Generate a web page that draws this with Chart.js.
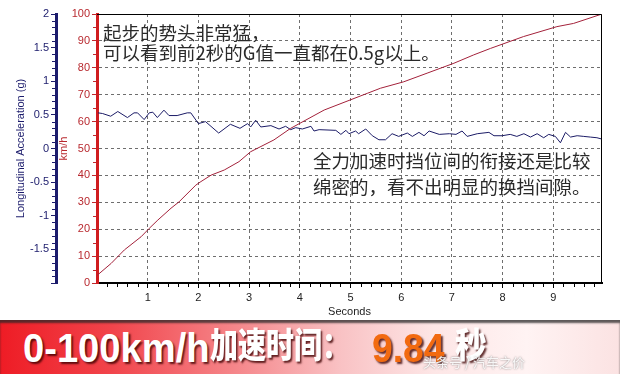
<!DOCTYPE html>
<html>
<head>
<meta charset="utf-8">
<script src="https://cdn.jsdelivr.net/npm/chart.js@4.4.1/dist/chart.umd.min.js"></script>
<style>
  body { margin: 0; width: 620px; height: 374px; overflow: hidden; position: relative; background: #fff; font-family: "Liberation Sans", Arial, sans-serif; }
  #wrap { position: absolute; left: 0; top: 0; width: 620px; height: 320px; }
  #banner {
    position: absolute; left: 0; top: 320px; width: 620px; height: 54px;
    background: linear-gradient(90deg, #ee1c25 0%, #f1444b 18%, #f5868a 38%, #f9c2c4 55%, #fde6e6 70%, #fff3f3 85%, #fbe2e2 100%);
    box-shadow: inset 0 3px 2px rgba(40, 40, 40, 0.75);
  }
  #banner span { position: absolute; white-space: nowrap; transform-origin: 0 0; line-height: 1; }
  .big { font-family: "Liberation Sans", Arial, sans-serif; font-weight: bold; font-size: 41px; text-shadow: 2px 2px 2px rgba(60, 0, 0, 0.8); }
  .cjk { font-family: "Noto Sans CJK SC", sans-serif; font-weight: 900; font-size: 35px; text-shadow: 2px 2px 2px rgba(60, 0, 0, 0.8); }
  .mark { font-family: "Noto Sans CJK SC", sans-serif; font-size: 13px; color: rgba(255, 255, 255, 0.9); text-shadow: 0 0 2px rgba(90, 90, 90, 0.8); }
</style>
</head>
<body>
<div id="wrap"><canvas id="accelChart"></canvas></div>
<div id="banner">
  <span class="big" style="left:23px; top:8px; color:#fff; transform:scaleX(0.93);">0-100km/h</span>
  <span class="cjk" style="left:210px; top:5px; color:#fff; transform:scaleX(0.8);">加速时间：</span>
  <span class="big" style="left:372px; top:8px; color:#f26a10; transform:scaleX(0.91);">9.84</span>
  <span class="cjk" style="left:455px; top:5px; color:#fff; transform:scaleX(0.9);">秒</span>
  <span class="mark" style="left:423px; top:35px;">头条号 / 汽车之价</span>
</div>
<script>
// speed trace (km/h)
const timeSpeed = [0, 0.28, 0.54, 0.87, 1.03, 1.2, 1.46, 1.62, 1.95, 2.05, 2.25, 2.51, 2.8, 3.03, 3.49, 3.82,
    4.48, 5.33, 5.59, 6.05, 6.51, 7.04, 7.43, 7.76, 8.41, 9.07, 9.4, 9.96];
const speedKmh = [2.8, 7.3, 12.3, 17.2, 20.3, 23.4, 27.8, 30.2, 36.4, 37.7, 40.1, 42.0, 45.1, 48.8, 53.2, 57.5,
    64.3, 70.5, 72.4, 74.8, 78.0, 81.7, 84.8, 87.2, 91.6, 95.3, 96.5, 100];

// longitudinal acceleration trace (g)
const timeG = [0.02, 0.11, 0.27, 0.41, 0.6, 0.73, 0.8, 0.93, 1.03, 1.1, 1.19, 1.32, 1.42, 1.58, 1.78, 1.85,
    2.0, 2.14, 2.4, 2.63, 2.82, 2.97, 3.03, 3.13, 3.23, 3.43, 3.59, 3.72, 3.82, 3.92, 4.05, 4.22, 4.28, 4.38,
    4.71, 4.81, 4.91, 4.97, 5.1, 5.16, 5.3, 5.43, 5.56, 5.69, 5.82, 5.95, 6.12, 6.22, 6.35, 6.45, 6.55,
    6.75, 6.95, 7.08, 7.2, 7.3, 7.5, 7.73, 7.83, 7.99, 8.15, 8.28, 8.42, 8.55, 8.68, 8.81, 8.91, 9.04,
    9.14, 9.24, 9.34, 9.47, 9.6, 9.73, 9.86, 9.96];
const accelG = [0.53, 0.52, 0.48, 0.55, 0.46, 0.53, 0.53, 0.43, 0.53, 0.54, 0.46, 0.57, 0.49, 0.49, 0.53, 0.53,
    0.37, 0.40, 0.23, 0.36, 0.30, 0.37, 0.32, 0.42, 0.32, 0.34, 0.29, 0.33, 0.28, 0.31, 0.29, 0.33, 0.26, 0.28,
    0.27, 0.21, 0.27, 0.22, 0.26, 0.22, 0.29, 0.19, 0.13, 0.13, 0.22, 0.18, 0.23, 0.18, 0.24, 0.19, 0.26,
    0.21, 0.22, 0.21, 0.26, 0.18, 0.22, 0.24, 0.19, 0.19, 0.21, 0.18, 0.22, 0.17, 0.22, 0.16, 0.21, 0.18,
    0.085, 0.24, 0.17, 0.19, 0.18, 0.17, 0.16, 0.14];

// tick labels
const secTicks = [1, 2, 3, 4, 5, 6, 7, 8, 9];
const kmhTicks = [0, 10, 20, 30, 40, 50, 60, 70, 80, 90, 100];
const gTicks = [-2, -1.5, -1, -0.5, 0, 0.5, 1, 1.5, 2];

const notes = [
    { x: 103, y: 33, text: '起步的势头非常猛，' },
    { x: 103, y: 53, text: '可以看到前2秒的G值一直都在0.5g以上。' },
    { x: 313, y: 161, text: '全力加速时挡位间的衔接还是比较' },
    { x: 313, y: 187, text: '绵密的，看不出明显的换挡间隙。' }
];

const toPoints = (xs, ys) => xs.map((x, i) => ({ x: x, y: ys[i] }));
const setTicks = list => scale => { scale.ticks = list.map(v => ({ value: v })); };

// frame, minor ticks and the two notes
const extras = {
    id: 'extras',
    afterDatasetsDraw(chart) {
        const { ctx } = chart;
        ctx.save();
        ctx.fillStyle = '#2a2a2a';
        ctx.font = '18.5px "Noto Sans CJK SC", sans-serif';
        ctx.textBaseline = 'middle';
        notes.forEach(n => ctx.fillText(n.text, n.x, n.y));
        ctx.restore();
    },
    afterDraw(chart) {
        const { ctx, chartArea: a, scales } = chart;
        ctx.save();
        ctx.lineWidth = 1;
        ctx.strokeStyle = '#000';
        ctx.beginPath();
        ctx.moveTo(a.left, a.top + 0.5);
        ctx.lineTo(a.right - 0.5, a.top + 0.5);
        ctx.lineTo(a.right - 0.5, a.bottom);
        ctx.stroke();

        ctx.beginPath();
        for (let i = 1; i < 50; i++) {
            if (i % 5 === 0) continue;
            const px = Math.round(scales.x.getPixelForValue(i * 0.2)) + 0.5;
            ctx.moveTo(px, a.bottom + 1);
            ctx.lineTo(px, a.bottom + 4);
        }
        ctx.stroke();

        ctx.strokeStyle = '#c0282d';
        ctx.beginPath();
        for (let v = 5; v < 100; v += 10) {
            const py = Math.round(scales.kmh.getPixelForValue(v)) + 0.5;
            ctx.moveTo(a.left - 4, py);
            ctx.lineTo(a.left - 1, py);
        }
        ctx.stroke();

        ctx.strokeStyle = '#1c1c6c';
        ctx.beginPath();
        const gs = scales.g;
        for (let i = -19; i < 20; i++) {
            if (i % 5 === 0) continue;
            const py = Math.round(gs.getPixelForValue(i / 10)) + 0.5;
            ctx.moveTo(gs.right - 4, py);
            ctx.lineTo(gs.right - 1, py);
        }
        ctx.stroke();
        ctx.restore();
    }
};

Chart.defaults.font.family = '"Liberation Sans", Arial, sans-serif';
Chart.defaults.font.size = 11;

new Chart(document.getElementById('accelChart').getContext('2d'), {
    type: 'line',
    data: {
        datasets: [
            {
                label: 'km/h',
                data: toPoints(timeSpeed, speedKmh),
                yAxisID: 'kmh',
                borderColor: '#a3213a',
                borderWidth: 1,
                pointRadius: 0,
                tension: 0
            },
            {
                label: 'Longitudinal Acceleration (g)',
                data: toPoints(timeG, accelG),
                yAxisID: 'g',
                borderColor: '#1b1b66',
                borderWidth: 1,
                pointRadius: 0,
                tension: 0
            }
        ]
    },
    plugins: [extras],
    options: {
        responsive: true,
        maintainAspectRatio: false,
        animation: false,
        layout: { padding: { left: 0, top: 14, right: 18, bottom: 0 } },
        plugins: { legend: { display: false }, tooltip: { enabled: false } },
        scales: {
            x: {
                type: 'linear',
                min: 0,
                max: 9.96,
                afterBuildTicks: setTicks(secTicks),
                afterFit: s => { s.height = 37; },
                ticks: { color: '#222', padding: 3, maxRotation: 0 },
                grid: { color: '#6e6e6e', tickColor: '#000', tickLength: 5 },
                border: { color: '#000', width: 2, dash: [3, 3] },
                title: { display: true, text: 'Seconds', color: '#222', padding: { top: 0, bottom: 1 } }
            },
            kmh: {
                position: 'left',
                weight: 0,
                min: 0,
                max: 100,
                afterBuildTicks: setTicks(kmhTicks),
                afterFit: s => { s.width = 41; },
                ticks: { color: '#b8292f', padding: 2 },
                grid: { color: '#6e6e6e', tickColor: '#c0282d', tickLength: 5 },
                border: { color: '#d01c1f', width: 3, dash: [3, 3] },
                title: { display: true, text: 'km/h', color: '#b8292f', padding: { top: 1, bottom: 0 } }
            },
            g: {
                position: 'left',
                weight: 1,
                min: -2,
                max: 2,
                afterBuildTicks: setTicks(gTicks),
                afterFit: s => { s.width = 56; },
                ticks: { color: '#1c1c6c', padding: 2, callback: v => v === -2 ? '' : v },
                grid: { drawOnChartArea: false, tickColor: '#1c1c6c', tickLength: 5 },
                border: { color: '#1c1c6c', width: 3 },
                title: { display: true, text: 'Longitudinal Acceleration (g)', color: '#1c1c6c', padding: { top: 14, bottom: 0 } }
            }
        }
    }
});
</script>
</body>
</html>
